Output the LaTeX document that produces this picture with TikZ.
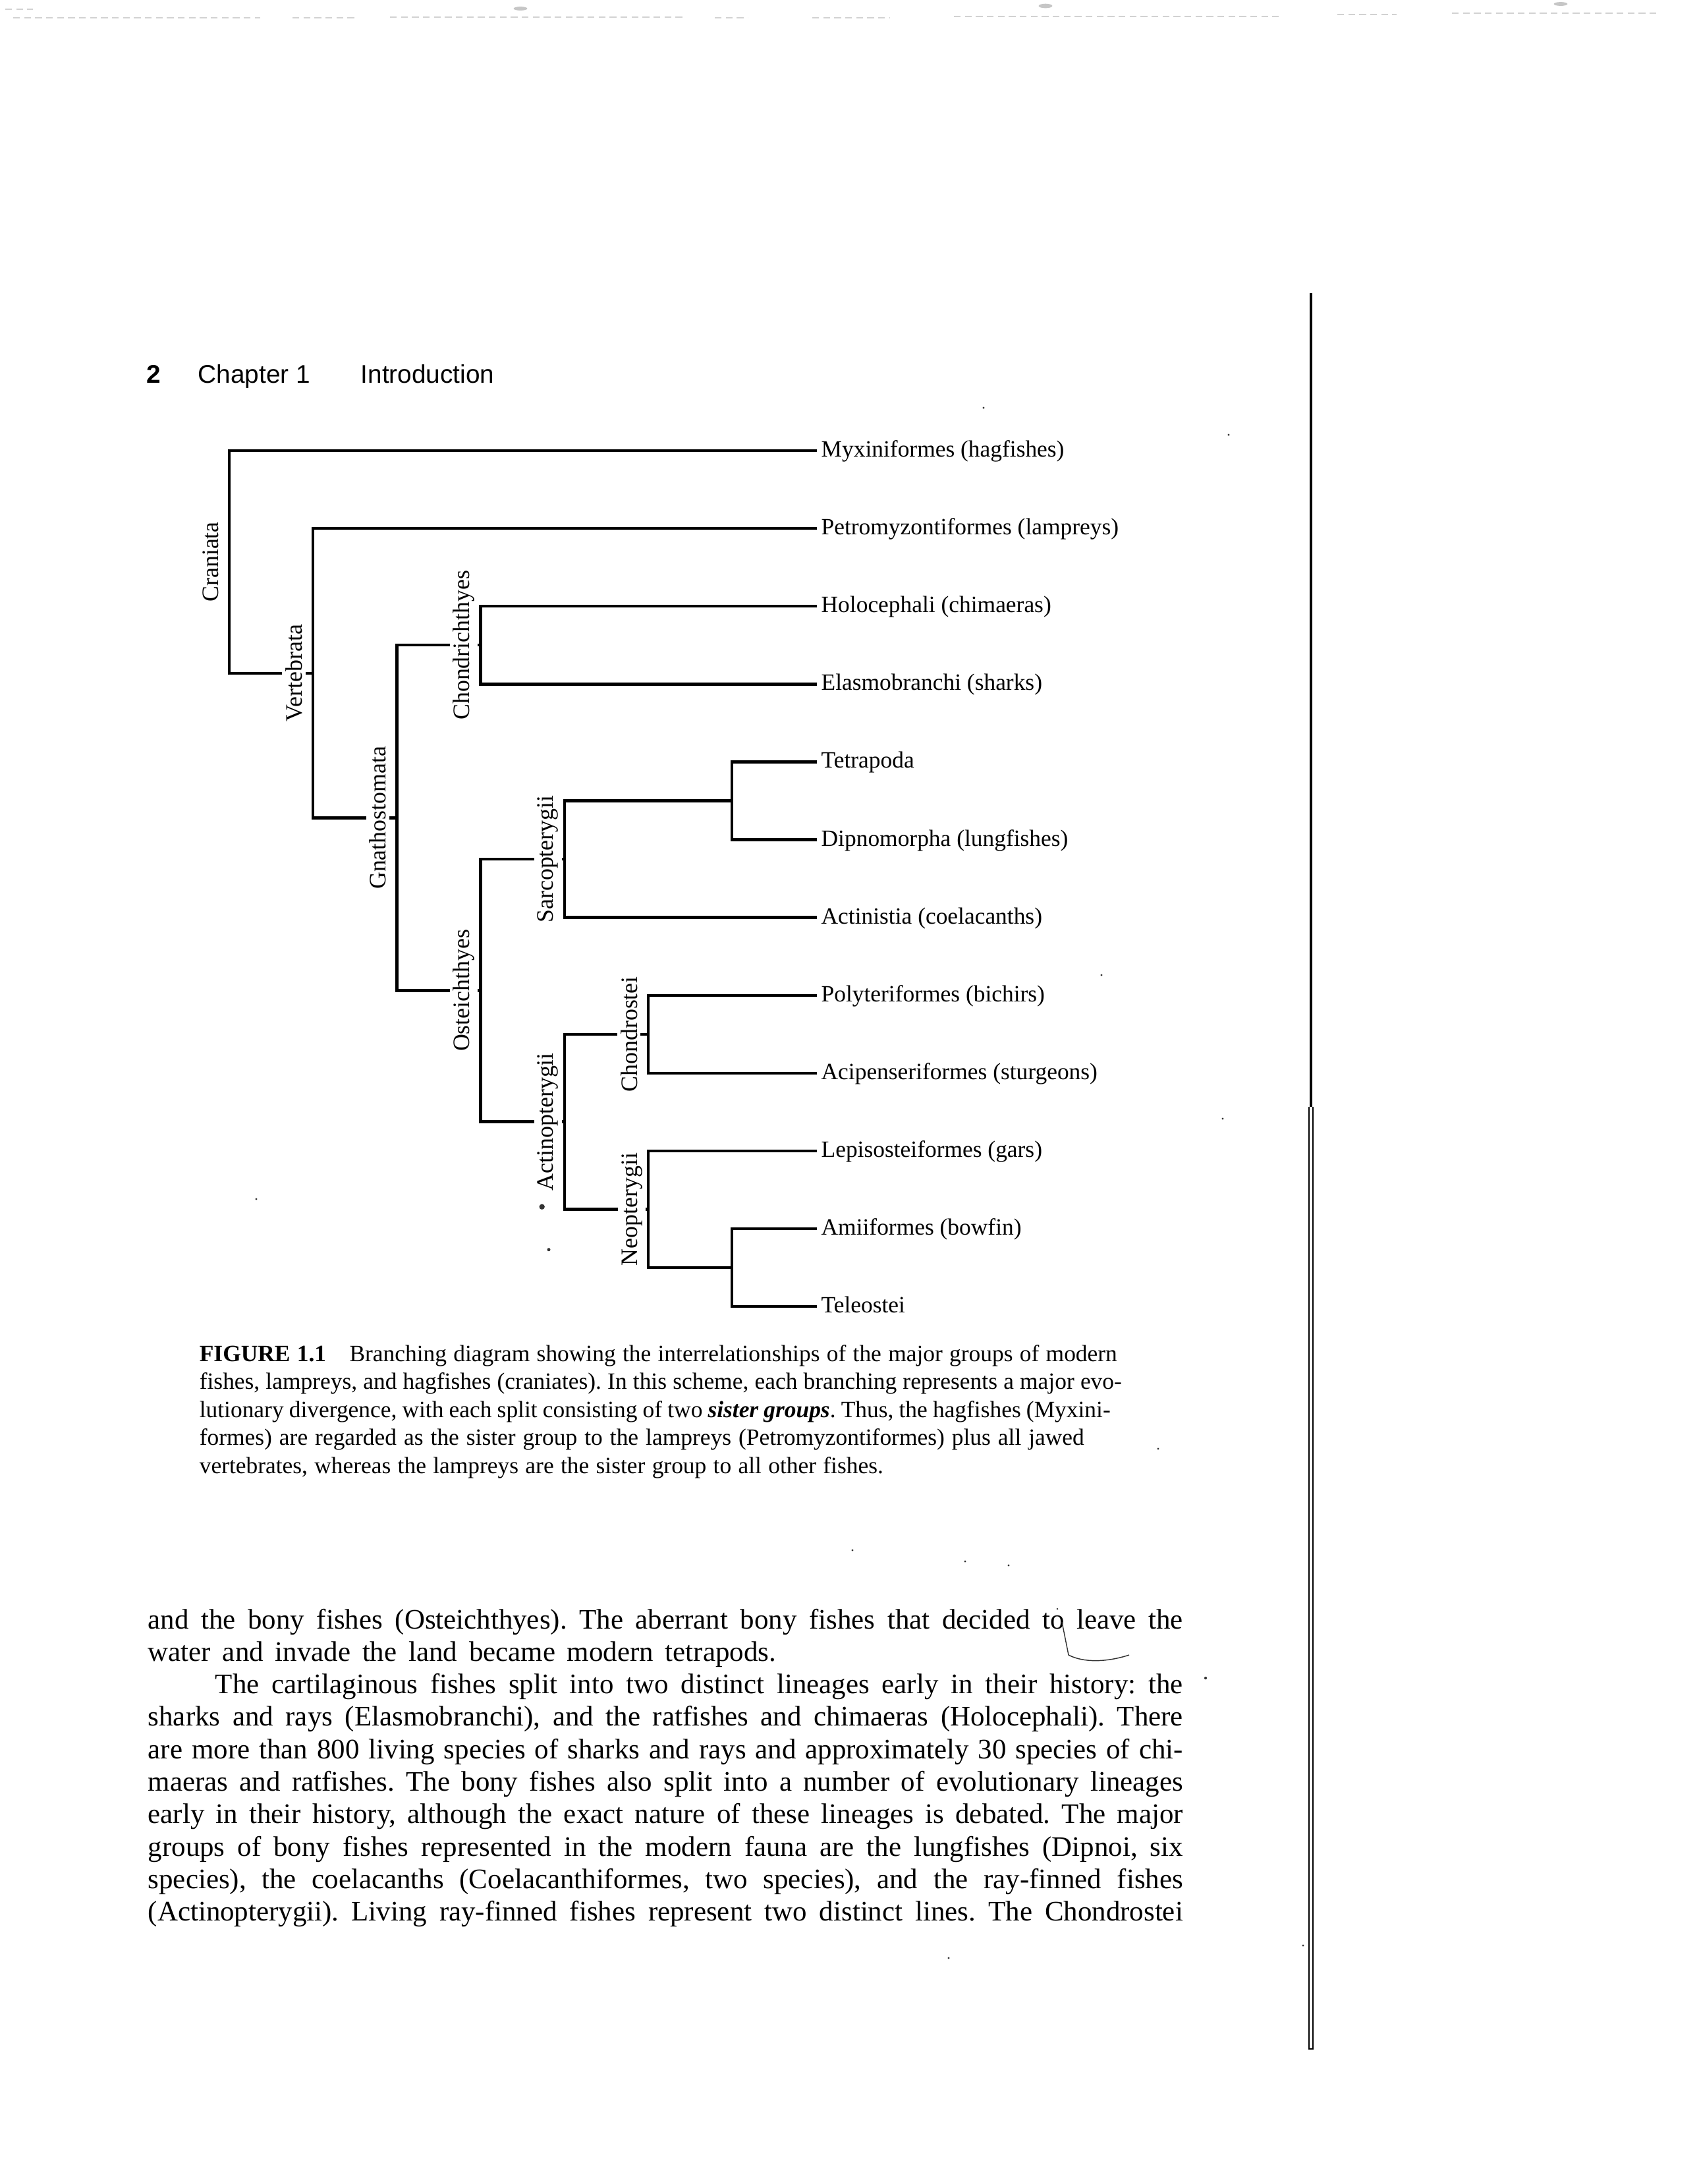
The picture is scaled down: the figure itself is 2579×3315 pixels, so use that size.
\documentclass[tikz,border=0pt]{standalone}
\usepackage{fontspec}
\setmainfont{Liberation Serif}
\newfontfamily\hdrfont{Liberation Sans}
\newlength\pxl
\setlength\pxl{0.24pt}
\frenchspacing
\begin{document}
\frenchspacing
\begin{tikzpicture}[x=0.24pt,y=-0.24pt,
  br/.style={line width=1.05pt, line join=miter},
  leaf/.style={anchor=mid west, inner xsep=1.4pt, inner ysep=0pt, font=\fontsize{8.5pt}{10pt}\selectfont},
  clade/.style={rotate=90, anchor=base, fill=white, inner xsep=0.5pt, inner ysep=1.2pt, font=\fontsize{8.6pt}{10pt}\selectfont},
  hdr/.style={anchor=base west, inner sep=0pt, font=\hdrfont\fontsize{9.3pt}{11pt}\selectfont},
  capline/.style={anchor=base west, inner sep=0pt, font=\fontsize{8.5pt}{10pt}\selectfont},
  bodyline/.style={anchor=base west, inner sep=0pt, font=\fontsize{10.3pt}{12pt}\selectfont},
  noise/.style={gray!35, line width=0.25pt, dash pattern=on 2.5pt off 1.5pt},
  speck/.style={fill=black!80}]
\fill[white] (0,0) rectangle (2579,3315);
\useasboundingbox (0,0) rectangle (2579,3315);

% scan noise along top edge
\draw[noise] (20,27) -- (395,27);
\draw[noise] (444,27) -- (543,27);
\draw[noise] (592,26) -- (1036,26);
\draw[noise] (1085,27) -- (1135,27);
\draw[noise] (1233,27) -- (1350,27);
\draw[noise] (1448,25) -- (1941,25);
\draw[noise] (2030,22) -- (2120,22);
\draw[noise] (2204,20) -- (2517,20);
\draw[noise] (8,14) -- (50,14);
\fill[gray!45] (790,13) ellipse (2.5pt and 0.7pt);
\fill[gray!45] (1587,9) ellipse (2.5pt and 0.8pt);
\fill[gray!45] (2369,6) ellipse (2.5pt and 0.7pt);

% running head
\node[hdr, font=\hdrfont\bfseries\fontsize{9.3pt}{11pt}\selectfont] (pgno) at (222,581) {2};
\node[hdr] (chap) at (300,581) {Chapter 1};
\node[hdr] (intro) at (547,581) {Introduction};

% leaves
\node[leaf] (myx) at (1240,684) {Myxiniformes (hagfishes)};
\node[leaf] (pet) at (1240,802.1) {Petromyzontiformes (lampreys)};
\node[leaf] (hol) at (1240,920.2) {Holocephali (chimaeras)};
\node[leaf] (ela) at (1240,1038.3) {Elasmobranchi (sharks)};
\node[leaf] (tet) at (1240,1156.4) {Tetrapoda};
\node[leaf] (dip) at (1240,1274.5) {Dipnomorpha (lungfishes)};
\node[leaf] (act) at (1240,1392.6) {Actinistia (coelacanths)};
\node[leaf] (pol) at (1240,1510.7) {Polyteriformes (bichirs)};
\node[leaf] (aci) at (1240,1628.8) {Acipenseriformes (sturgeons)};
\node[leaf] (lep) at (1240,1746.9) {Lepisosteiformes (gars)};
\node[leaf] (ami) at (1240,1865) {Amiiformes (bowfin)};
\node[leaf] (tel) at (1240,1983.1) {Teleostei};

% clade junctions
\coordinate (ntd) at (1111.2,1215.45);
\coordinate (nsar) at (856.8,1304.0);
\coordinate (nchs) at (984,1569.75);
\coordinate (nat) at (1111.2,1924.05);
\coordinate (nneo) at (984,1835.5);
\coordinate (nact) at (856.8,1702.6);
\coordinate (nost) at (729.6,1503.3);
\coordinate (ncho) at (729.6,979.25);
\coordinate (ngna) at (602.4,1241.3);
\coordinate (nver) at (475.2,1021.7);
\coordinate (ncra) at (348,852.85);

% branches
\draw[br] (tet.mid west) -| (ntd) |- (dip.mid west);
\draw[br] (ntd) -| (nsar) |- (act.mid west);
\draw[br] (pol.mid west) -| (nchs) |- (aci.mid west);
\draw[br] (ami.mid west) -| (nat) |- (tel.mid west);
\draw[br] (lep.mid west) -| (nneo) |- (nat);
\draw[br] (nchs) -| (nact) |- (nneo);
\draw[br] (nsar) -| (nost) |- (nact);
\draw[br] (hol.mid west) -| (ncho) |- (ela.mid west);
\draw[br] (ncho) -| (ngna) |- (nost);
\draw[br] (pet.mid west) -| (nver) |- (ngna);
\draw[br] (myx.mid west) -| (ncra) |- (nver);

% clade labels
\node[clade] (lcra) at (331,852.85) {Craniata};
\node[clade] (lver) at (458.2,1021.7) {Vertebrata};
\node[clade] (lgna) at (585.4,1241.3) {Gnathostomata};
\node[clade] (lcho) at (712.6,979.25) {Chondrichthyes};
\node[clade] (lost) at (712.6,1503.3) {Osteichthyes};
\node[clade] (lsar) at (839.8,1304.0) {Sarcopterygii};
\node[clade] (lact) at (839.8,1702.6) {Actinopterygii};
\node[clade] (lchs) at (967,1569.75) {Chondrostei};
\node[clade] (lneo) at (967,1835.5) {Neopterygii};

% caption
\node[capline] (cap1) at (302,2066) {\makebox[1393\pxl][s]{\textbf{FIGURE 1.1}\quad Branching diagram showing the interrelationships of the major groups of modern}};
\node[capline] (cap2) at (302,2108.5) {\makebox[1400\pxl][s]{fishes, lampreys, and hagfishes (craniates). In this scheme, each branching represents a major evo-}};
\node[capline] (cap3) at (302,2151) {\makebox[1383\pxl][s]{lutionary divergence, with each split consisting of two \textbf{\textit{sister groups}}. Thus, the hagfishes (Myxini-}};
\node[capline] (cap4) at (302,2193.5) {\makebox[1343\pxl][s]{formes) are regarded as the sister group to the lampreys (Petromyzontiformes) plus all jawed}};
\node[capline] (cap5) at (302,2236) {\makebox[1038\pxl][s]{vertebrates, whereas the lampreys are the sister group to all other fishes.}};

% body text
\node[bodyline] (b1) at (224,2472) {\makebox[1571\pxl][s]{and the bony fishes (Osteichthyes). The aberrant bony fishes that decided to leave the}};
\node[bodyline] (b2) at (224,2521.3) {\makebox[953\pxl][s]{water and invade the land became modern tetrapods.}};
\node[bodyline] (b3) at (326,2570.6) {\makebox[1469\pxl][s]{The cartilaginous fishes split into two distinct lineages early in their history: the}};
\node[bodyline] (b4) at (224,2619.9) {\makebox[1571\pxl][s]{sharks and rays (Elasmobranchi), and the ratfishes and chimaeras (Holocephali). There}};
\node[bodyline] (b5) at (224,2669.2) {\makebox[1571\pxl][s]{are more than 800 living species of sharks and rays and approximately 30 species of chi-}};
\node[bodyline] (b6) at (224,2718.5) {\makebox[1571\pxl][s]{maeras and ratfishes. The bony fishes also split into a number of evolutionary lineages}};
\node[bodyline] (b7) at (224,2767.8) {\makebox[1571\pxl][s]{early in their history, although the exact nature of these lineages is debated. The major}};
\node[bodyline] (b8) at (224,2817.1) {\makebox[1571\pxl][s]{groups of bony fishes represented in the modern fauna are the lungfishes (Dipnoi, six}};
\node[bodyline] (b9) at (224,2866.4) {\makebox[1571\pxl][s]{species), the coelacanths (Coelacanthiformes, two species), and the ray-finned fishes}};
\node[bodyline] (b10) at (224,2915.7) {\makebox[1571\pxl][s]{(Actinopterygii). Living ray-finned fishes represent two distinct lines. The Chondrostei}};

% pencil mark
\draw[black!80, line width=0.35pt] (1612,2462) -- (1622,2512) .. controls (1645,2524) and (1680,2523) .. (1714,2512);

% binding edge at right
\draw[line width=0.8pt] (1990,445) -- (1990,1680);
\draw[line width=0.45pt] (1987,1680) -- (1987,3110) -- (1993,3110) -- (1993,1680);

% scan specks
\fill[speck] (822.7,1831.7) circle (1.0pt);
\fill[speck] (833,1896.7) circle (0.6pt);
\fill[speck] (389,1820) circle (0.4pt);
\fill[speck] (1493,619) circle (0.4pt);
\fill[speck] (1865,660) circle (0.4pt);
\fill[speck] (1672,1480) circle (0.4pt);
\fill[speck] (1856,1698) circle (0.4pt);
\fill[speck] (1294,2353) circle (0.4pt);
\fill[speck] (1465,2370) circle (0.4pt);
\fill[speck] (1531,2376) circle (0.4pt);
\fill[speck] (1440,2972) circle (0.4pt);
\fill[speck] (1830,2547) circle (0.5pt);
\fill[speck] (1758,2199) circle (0.4pt);
\fill[speck] (1605,2442) circle (0.35pt);
\fill[speck] (1978,2953) circle (0.4pt);
\end{tikzpicture}
\end{document}
